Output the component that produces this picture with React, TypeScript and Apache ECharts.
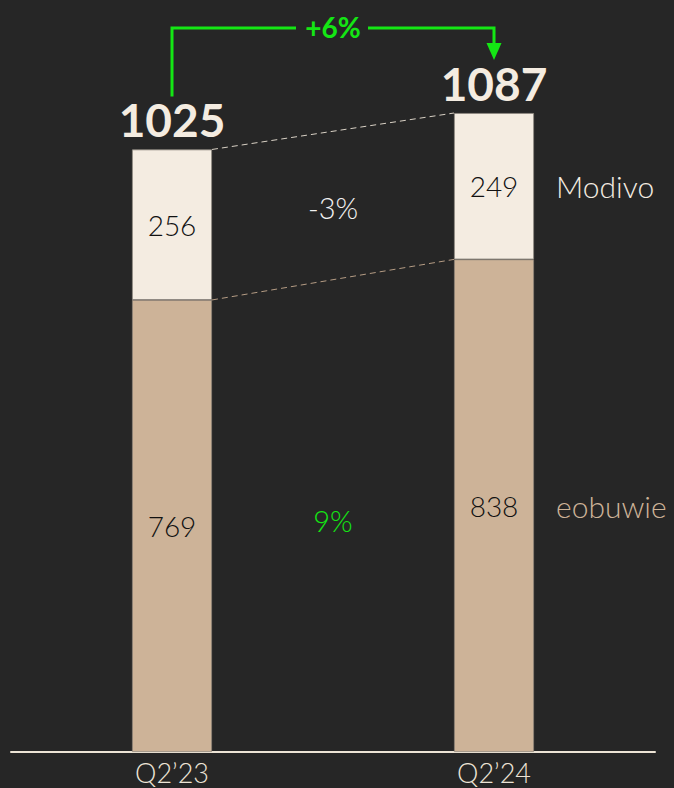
import React, { useEffect, useRef } from "react";
import * as echarts from "echarts";

const categories = ["Q2’23", "Q2’24"];
const seriesNames = ["eobuwie", "Modivo"];
const eobuwie = [769, 838];
const modivo = [256, 249];
const totals = [1025, 1087];
const totalGrowth = "+6%";
const eobuwieGrowth = "9%";
const modivoGrowth = "-3%";

const BG = "#262626";
const MODIVO_C = "#F4ECE1";
const EOBUWIE_C = "#CDB398";
const GREEN = "#14E614";
const FONT = "Lato, 'Open Sans', sans-serif";
const LIGHT = 300;

export default function App() {
  const ref = useRef<HTMLDivElement>(null);

  useEffect(() => {
    document.body.style.margin = "0";
    document.body.style.background = BG;
    const chart = echarts.init(ref.current!, null, { renderer: "svg" });
    const halfBar = 40;

    const connectorItem = (params: any, api: any) => {
      const p0 = api.coord([0, api.value(2)]);
      const p1 = api.coord([1, api.value(3)]);
      const color = params.dataIndex === 0 ? "#B59C84" : "#D9D1C5";
      return {
        type: "line",
        shape: { x1: p0[0] + halfBar, y1: p0[1], x2: p1[0] - halfBar, y2: p1[1] },
        style: { stroke: color, lineWidth: 1, lineDash: [6, 4] },
      };
    };

    const growthLabels = [eobuwieGrowth, modivoGrowth];
    const growthColors = [GREEN, "#F2F2F2"];
    const growthItem = (params: any, api: any) => {
      const p0 = api.coord([0, api.value(2)]);
      const p1 = api.coord([1, api.value(3)]);
      const i = params.dataIndex;
      return {
        type: "text",
        style: {
          text: growthLabels[i],
          x: (p0[0] + p1[0]) / 2,
          y: (p0[1] + p1[1]) / 2 + (i === 0 ? 5 : 2),
          align: "center",
          verticalAlign: "middle",
          fill: growthColors[i],
          fontSize: 29,
          fontWeight: LIGHT,
          fontFamily: FONT,
        },
      };
    };

    const arrowItem = (params: any, api: any) => {
      const p0 = api.coord([0, api.value(2)]);
      const p1 = api.coord([1, api.value(3)]);
      const startY = p0[1] - 53;
      const tipY = p1[1] - 53;
      const hy = Math.min(p0[1], p1[1]) - 85;
      const midX = (p0[0] + p1[0]) / 2;
      const ls = { stroke: GREEN, lineWidth: 3, fill: "none" };
      return {
        type: "group",
        children: [
          { type: "polyline", shape: { points: [[p0[0], startY], [p0[0], hy], [midX - 37, hy]] }, style: ls },
          { type: "polyline", shape: { points: [[midX + 35, hy], [p1[0], hy], [p1[0], tipY - 15]] }, style: ls },
          {
            type: "polygon",
            shape: { points: [[p1[0] - 7.5, tipY - 17], [p1[0] + 7.5, tipY - 17], [p1[0], tipY]] },
            style: { fill: GREEN },
          },
          {
            type: "text",
            style: {
              text: totalGrowth,
              x: midX,
              y: hy - 1,
              align: "center",
              verticalAlign: "middle",
              fill: GREEN,
              fontSize: 28,
              fontWeight: "bold",
              fontFamily: FONT,
            },
          },
        ],
      };
    };

    const option: any = {
      animation: false,
      backgroundColor: BG,
      grid: { left: 11, right: 19, top: 46.6, bottom: 36 },
      xAxis: {
        type: "category",
        data: categories,
        axisLine: { lineStyle: { color: "#EDE4D6", width: 2 } },
        axisTick: { show: false },
        axisLabel: { color: "#EDE4D6", fontSize: 27, fontWeight: LIGHT, fontFamily: FONT, margin: 7 },
      },
      yAxis: { type: "value", min: 0, max: 1200, show: false, splitLine: { show: false } },
      series: [
        {
          name: seriesNames[0],
          type: "bar",
          stack: "total",
          barWidth: 80,
          data: eobuwie,
          itemStyle: { color: EOBUWIE_C, borderColor: "#8f8578", borderWidth: 0.8 },
          label: { show: true, position: "inside", color: "#111", fontSize: 28, fontWeight: LIGHT, fontFamily: FONT },
        },
        {
          name: seriesNames[1],
          type: "bar",
          stack: "total",
          barWidth: 80,
          data: modivo,
          itemStyle: { color: MODIVO_C, borderColor: "#8f8a82", borderWidth: 0.8 },
          label: { show: true, position: "inside", color: "#111", fontSize: 28, fontWeight: LIGHT, fontFamily: FONT },
        },
        {
          type: "scatter",
          data: totals.map((t, i) => [i, t]),
          symbolSize: 0,
          silent: true,
          itemStyle: { opacity: 1, color: "transparent" },
          label: {
            show: true,
            position: "top",
            distance: 7,
            opacity: 1,
            formatter: (p: any) => String(p.value[1]),
            color: MODIVO_C,
            fontSize: 46,
            fontWeight: "bold",
            fontFamily: FONT,
          },
        },
        {
          type: "scatter",
          data: [
            { value: [1, eobuwie[1] / 2], label: { color: EOBUWIE_C } },
            { value: [1, eobuwie[1] + modivo[1] / 2], label: { color: MODIVO_C } },
          ],
          symbolSize: 0,
          silent: true,
          itemStyle: { opacity: 1, color: "transparent" },
          label: {
            show: true,
            position: "right",
            distance: 62,
            opacity: 1,
            formatter: (p: any) => seriesNames[p.dataIndex],
            fontSize: 30,
            fontWeight: LIGHT,
            fontFamily: FONT,
          },
        },
        {
          type: "custom",
          coordinateSystem: "cartesian2d",
          clip: false,
          silent: true,
          renderItem: connectorItem,
          data: [
            [0, 1, eobuwie[0], eobuwie[1]],
            [0, 1, totals[0], totals[1]],
          ],
          z: 1,
        },
        {
          type: "custom",
          coordinateSystem: "cartesian2d",
          clip: false,
          silent: true,
          renderItem: growthItem,
          data: [
            [0, 1, eobuwie[0] / 2, eobuwie[1] / 2],
            [0, 1, eobuwie[0] + modivo[0] / 2, eobuwie[1] + modivo[1] / 2],
          ],
        },
        {
          type: "custom",
          coordinateSystem: "cartesian2d",
          clip: false,
          silent: true,
          renderItem: arrowItem,
          data: [[0, 1, totals[0], totals[1]]],
        },
      ],
    };
    chart.setOption(option);
    return () => chart.dispose();
  }, []);

  return <div ref={ref} style={{ width: 674, height: 788, background: BG }} />;
}
